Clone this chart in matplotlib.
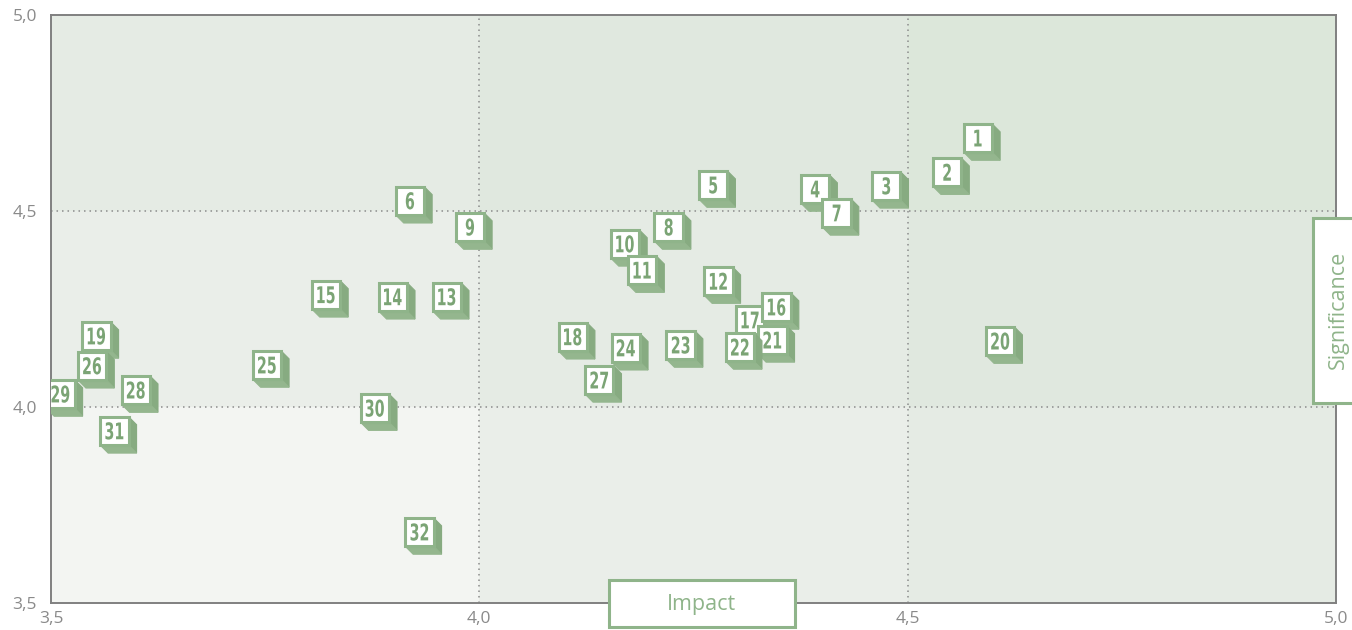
import numpy as np
import matplotlib.pyplot as plt
from matplotlib.patches import Polygon, Rectangle, PathPatch
from matplotlib.textpath import TextPath
from matplotlib.font_manager import FontProperties
from matplotlib.transforms import ScaledTranslation, Affine2D

# item number, impact, significance
ids = list(range(1, 33))
impact = [4.582, 4.546, 4.475, 4.392, 4.273, 3.919, 4.417, 4.221, 3.989, 4.170,
          4.190, 4.279, 3.962, 3.899, 3.821, 4.347, 4.316, 4.109, 3.553, 4.608,
          4.342, 4.304, 4.235, 4.171, 3.752, 3.548, 4.140, 3.599, 3.511, 3.878,
          3.574, 3.930]
significance = [4.686, 4.599, 4.564, 4.556, 4.566, 4.526, 4.495, 4.459, 4.459, 4.416,
                4.349, 4.321, 4.281, 4.281, 4.286, 4.255, 4.222, 4.179, 4.181, 4.168,
                4.171, 4.153, 4.158, 4.151, 4.107, 4.105, 4.069, 4.043, 4.033, 3.997,
                3.939, 3.681]
ticks = [3.5, 4.0, 4.5, 5.0]
tick_labels = ['3,5', '4,0', '4,5', '5,0']

green = '#8fb48a'
green_side = '#87ab81'
green_bottom = '#94b68e'
text_green = '#7ba475'
grey = '#808080'

plt.rcParams['font.family'] = ['Open Sans', 'DejaVu Sans']

fig = plt.figure(figsize=(13.52, 6.3), dpi=100)
ax = fig.add_axes([0.0377, 0.0429, 0.9505, 0.9333])
ax.set_xlim(3.5, 5.0)
ax.set_ylim(3.5, 5.0)

# background cells, darker towards the top right
shades = ['#f3f5f2', '#eaeee9', '#e5ebe4', '#e0e8df', '#dce7da']
for i in range(3):
    for j in range(3):
        ax.add_patch(Rectangle((3.5 + 0.5 * i, 3.5 + 0.5 * j), 0.5, 0.5,
                               facecolor=shades[i + j], edgecolor='none', zorder=0))

for v in [4.0, 4.5]:
    ax.axvline(v, color='#8c8c8c', lw=1.1, ls=(0, (1, 2.6)), zorder=1)
    ax.axhline(v, color='#8c8c8c', lw=1.1, ls=(0, (1, 2.6)), zorder=1)

for s in ax.spines.values():
    s.set_color(grey)
    s.set_linewidth(1.4)
ax.set_xticks(ticks)
ax.set_xticklabels(tick_labels)
ax.set_yticks(ticks)
ax.set_yticklabels(tick_labels)
ax.tick_params(length=0, colors='#8a8a8a', labelsize=12.5)
ax.tick_params(axis='x', pad=6)
ax.tick_params(axis='y', pad=10)

# box marker: face and depth sizes in inches
h = 0.142
d = 0.08
face = [(-h, -h), (h, -h), (h, h), (-h, h)]
side = [(h, h), (h + d, h - d), (h + d, -h - d), (h, -h)]
bottom = [(-h, -h), (h, -h), (h + d, -h - d), (-h + d, -h - d)]

num_font = FontProperties(family='DejaVu Sans', weight='bold')


def number_path(s):
    # narrow digits: squeeze DejaVu Bold horizontally and centre on the origin
    p = TextPath((0, 0), s, size=0.23, prop=num_font)
    ext = p.get_extents()
    cx = (ext.x0 + ext.x1) / 2
    cy = (ext.y0 + ext.y1) / 2
    return Affine2D().translate(-cx, -cy).scale(0.62, 1.0).transform_path(p)


order = [17] + [n for n in ids if n != 17]
for z, n in enumerate(order):
    x = impact[n - 1]
    y = significance[n - 1]
    tr = fig.dpi_scale_trans + ScaledTranslation(x, y, ax.transData)
    base = 3 + z * 0.01
    ax.add_patch(Polygon(side, closed=True, facecolor=green_side,
                         edgecolor=green_side, lw=0.8, transform=tr, zorder=base))
    ax.add_patch(Polygon(bottom, closed=True, facecolor=green_bottom,
                         edgecolor=green_bottom, lw=0.8, transform=tr, zorder=base))
    ax.add_patch(Polygon(face, closed=True, facecolor='white',
                         edgecolor=green, lw=2.2, transform=tr, zorder=base + 0.001))
    ax.add_patch(PathPatch(number_path(str(n)), facecolor=text_green, edgecolor='none',
                           transform=tr, zorder=base + 0.002))

# axis title boxes
fig.add_artist(Rectangle((0.4504, 0.0048), 0.1376, 0.0746, transform=fig.transFigure,
                         facecolor='white', edgecolor=green, lw=2.2, zorder=10))
fig.text(0.519, 0.041, 'Impact', ha='center', va='center', fontsize=15.5,
         color=green, zorder=11)
fig.add_artist(Rectangle((0.9712, 0.3603), 0.04, 0.2937, transform=fig.transFigure,
                         facecolor='white', edgecolor=green, lw=2.2, zorder=10))
fig.text(0.9896, 0.508, 'Significance', ha='center', va='center', fontsize=15.5,
         rotation=90, color=green, zorder=11)

fig.savefig('out.png', dpi=100)
